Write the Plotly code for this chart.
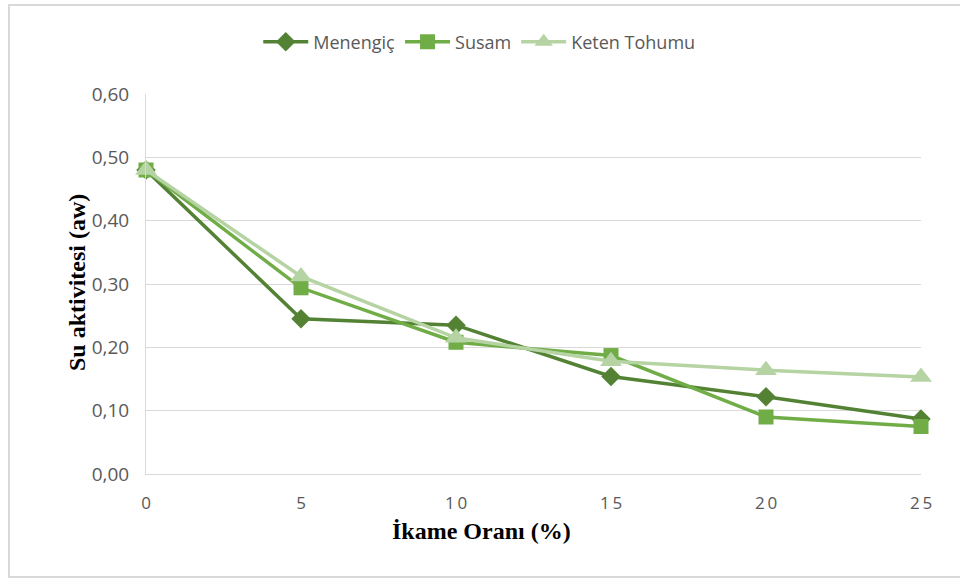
import plotly.graph_objects as go

# values
oran = [0, 5, 10, 15, 20, 25]
menengic = [0.48, 0.245, 0.235, 0.154, 0.122, 0.087]
susam = [0.48, 0.294, 0.208, 0.187, 0.090, 0.075]
keten = [0.48, 0.312, 0.215, 0.178, 0.164, 0.153]

y_ticks = [0.0, 0.1, 0.2, 0.3, 0.4, 0.5, 0.6]
x_ticks = [0, 5, 10, 15, 20, 25]
x_ticktext = ["\u2009".join(str(v)) for v in x_ticks]  # spaced digits like the original

fig = go.Figure()

series = [
    ("Menengiç", menengic, "#548235", "diamond", 15),
    ("Susam", susam, "#70AD47", "square", 15),
    ("Keten Tohumu", keten, "#B5D3A3", "triangle-up", 19),
]
for name, vals, col, sym, sz in series:
    fig.add_trace(go.Scatter(
        x=oran, y=vals, name=name, mode="lines+markers",
        line=dict(color=col, width=3.5),
        marker=dict(symbol=sym, size=sz, color=col),
        cliponaxis=False,
    ))

sans = "Open Sans, Noto Sans, sans-serif"

fig.update_layout(
    width=960, height=579,
    margin=dict(l=146, r=39, t=94, b=105),
    paper_bgcolor="white", plot_bgcolor="white",
    separators=",.",
    legend=dict(orientation="h", x=0.43, xanchor="center", y=1.137, yanchor="middle",
                font=dict(family=sans, size=18, color="#595959"),
                itemwidth=45, traceorder="normal"),
    xaxis=dict(range=[0, 25], tickvals=x_ticks, ticktext=x_ticktext, showgrid=False,
               zeroline=False, showline=True, linecolor="#d9d9d9", linewidth=1,
               tickfont=dict(family=sans, size=17, color="#595959"),
               ticks="", ticklabelstandoff=14),
    yaxis=dict(range=[0, 0.6], tickvals=y_ticks, tickformat=".2f", showgrid=True,
               gridcolor="#d9d9d9", gridwidth=1, zeroline=False,
               showline=True, linecolor="#d9d9d9", linewidth=1,
               tickfont=dict(family=sans, size=19, color="#595959"),
               ticks="", ticklabelstandoff=12),
)

# axis titles
serif = "Liberation Serif, Times New Roman, serif"
fig.add_annotation(text="<b>İkame Oranı (%)</b>", xref="paper", yref="paper",
                   x=(481 - 146) / 775, y=(474 - 546) / 380, showarrow=False,
                   font=dict(family=serif, size=24, color="black"))
fig.add_annotation(text="<b>Su aktivitesi (aw)</b>", xref="paper", yref="paper",
                   x=(62 - 146) / 775, y=(474 - 283) / 380, showarrow=False, textangle=-90,
                   font=dict(family=serif, size=24, color="black"))

# chart area border
fig.add_shape(type="rect", xref="paper", yref="paper",
              x0=(9 - 146) / 775, x1=(968 - 146) / 775,
              y0=(474 - 577) / 380, y1=(474 - 5) / 380,
              line=dict(color="#d9d9d9", width=2), layer="below")

fig.write_html("out.html", config={"displayModeBar": False},
               post_script="document.body.style.margin='0';")
